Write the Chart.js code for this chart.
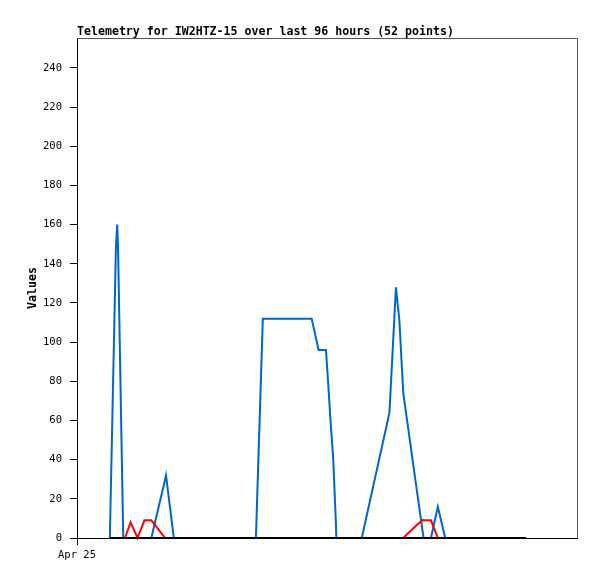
<!DOCTYPE html>
<html>
<head>
<meta charset="utf-8">
<script src="https://cdn.jsdelivr.net/npm/chart.js@4.4.1/dist/chart.umd.min.js"></script>
<style>
  html, body { margin: 0; padding: 0; background: #fff; }
  #wrap { width: 597px; height: 579px; }
</style>
</head>
<body>
<div id="wrap"><canvas id="telemetria"></canvas></div>
<script>
// hours since Apr 25 00:00
const hours = [7.6, 9.0, 9.3, 9.5, 10.7, 11.1, 12.4, 14.0, 15.6, 17.2, 20.4, 20.6, 22.4,
  41.4, 43.0, 54.3, 55.9, 57.6, 58.1, 58.6, 59.3, 59.9, 60.0, 65.9, 72.3, 73.8, 74.6, 75.5,
  78.6, 80.0, 80.2, 81.9, 83.5, 85.2, 103.9];
const blueValues = [0, 148, 160, 148, 0, 0, 0, 0, 0, 0, 30, 32, 0,
  0, 112, 112, 96, 96, 80, 62, 40, 8, 0, 0, 64, 128, 111, 74,
  25, 3, 0, 0, 16, 0, 0];
const redValues = [0, 0, 0, 0, 0, 0, 8, 0, 9, 9, 0, 0, 0,
  0, 0, 0, 0, 0, 0, 0, 0, 0, 0, 0, 0, 0, 0, 0,
  6.6, 9.2, 9, 9, 0, 0, 0];
const blackValues = hours.map(() => 0);
const xTickLabels = ['Apr 25'];
const yTicks = [0, 20, 40, 60, 80, 100, 120, 140, 160, 180, 200, 220, 240];

const pts = vals => hours.map((h, i) => ({ x: h, y: vals[i] }));

const frame = {
  id: 'frame',
  afterDraw(chart) {
    const { ctx, chartArea: a } = chart;
    ctx.save();
    ctx.strokeStyle = '#555';
    ctx.lineWidth = 1;
    ctx.beginPath();
    ctx.moveTo(a.left, a.top + 0.5);
    ctx.lineTo(a.right + 0.5, a.top + 0.5);
    ctx.lineTo(a.right + 0.5, a.bottom);
    ctx.stroke();
    ctx.fillStyle = '#000';
    ctx.font = 'bold 11.6px "DejaVu Sans Mono"';
    ctx.textBaseline = 'alphabetic';
    ctx.fillText('Telemetry for IW2HTZ-15 over last 96 hours (52 points)', 77, 35);
    ctx.translate(36, (a.top + a.bottom) / 2);
    ctx.rotate(-Math.PI / 2);
    ctx.textAlign = 'center';
    ctx.fillText('Values', 0, 0);
    ctx.restore();
  }
};

new Chart(document.getElementById('telemetria'), {
  type: 'line',
  data: {
    datasets: [
      { data: pts(blackValues), borderColor: '#000', borderWidth: 2 },
      { data: pts(redValues), borderColor: '#ff0000', borderWidth: 2 },
      { data: pts(blueValues), borderColor: '#0066cc', borderWidth: 2 }
    ]
  },
  options: {
    responsive: true,
    maintainAspectRatio: false,
    animation: false,
    layout: { padding: { top: 38, right: 20, left: 0, bottom: 0 } },
    elements: { point: { radius: 0 }, line: { tension: 0 } },
    datasets: { line: { clip: false } },
    plugins: { legend: { display: false }, tooltip: { enabled: false } },
    scales: {
      x: {
        type: 'linear',
        min: 0,
        max: 115.7,
        afterFit: s => { s.height = 41; },
        afterBuildTicks: s => { s.ticks = [{ value: 0 }]; },
        grid: { drawOnChartArea: false, tickLength: 7, color: '#000' },
        border: { color: '#000' },
        ticks: {
          padding: 4,
          maxRotation: 0,
          color: '#000',
          font: { family: 'DejaVu Sans Mono', size: 10.5 },
          callback: (v, i) => xTickLabels[i]
        }
      },
      y: {
        min: 0,
        max: 255.3,
        afterFit: s => { s.width = 77; },
        afterBuildTicks: s => { s.ticks = yTicks.map(v => ({ value: v })); },
        grid: { drawOnChartArea: false, tickLength: 7, color: '#000' },
        border: { color: '#000' },
        ticks: {
          padding: 8,
          color: '#000',
          font: { family: 'DejaVu Sans Mono', size: 10.5 }
        }
      }
    }
  },
  plugins: [frame]
});
</script>
</body>
</html>
